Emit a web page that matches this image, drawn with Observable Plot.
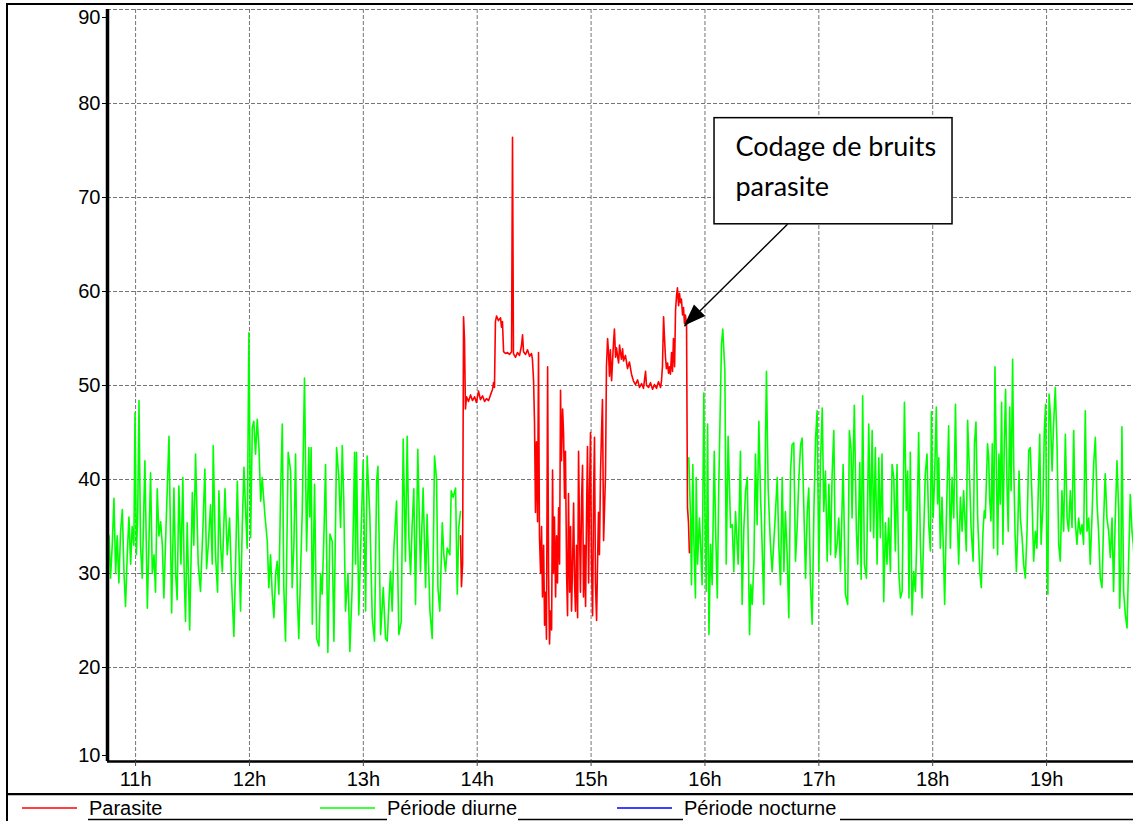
<!DOCTYPE html>
<html><head><meta charset="utf-8">
<script src="https://cdn.jsdelivr.net/npm/d3@7"></script>
<script src="https://cdn.jsdelivr.net/npm/@observablehq/plot@0.6"></script>
<style>
body{margin:0;background:#fff;}
#wrap{position:relative;width:1133px;height:821px;overflow:hidden;font-family:"Liberation Sans",Arial,sans-serif;}
#chart{position:absolute;left:0;top:0;}
#legend{position:absolute;left:0;top:793px;}
#frame{position:absolute;left:6px;top:3px;width:1160px;height:840px;border:2px solid #000;box-sizing:border-box;pointer-events:none;z-index:5;}
</style></head><body>
<div id="wrap"><div id="chart"></div><svg id="legend" width="1133" height="28"></svg><div id="frame"></div></div>
<script>
// ---- data (time in minutes since midnight, level in dB) ----
const hourTicks = [11,12,13,14,15,16,17,18,19];
const levelTicks = [20,30,40,50,60,70,80];
const timeStart = 645.2, timeEnd = 1185.8;

const diurneAT = [645.1,646.0,646.8,647.7,648.6,649.5,650.3,651.2,652.1,653.0,653.9,654.7,655.6,656.5,657.4,658.2,659.1,659.7,660.4,661.1,661.8,662.6,663.5,664.9,666.2,667.0,667.9,668.8,669.7,670.5,671.4,672.3,673.2,674.1,674.9,676.2,677.6,679.0,680.2,681.1,681.9,682.8,683.9,684.9,685.6,686.3,687.2,688.5,689.9,690.7,691.6,693.0,694.2,695.5,696.5,697.4,698.3,699.5,700.4,700.9,702.1,703.2,703.9,704.8,705.7,707.1,708.3,709.5,710.6,711.8,712.7,713.6,714.4,715.3,716.2,717.1,717.9,718.8,719.7,720.6,721.5,722.3,723.2,724.1,725.0,725.9,726.7,728.1,729.4,730.2,731.1,732.0,732.9,733.8,734.6,735.5,736.4,737.3,738.1,739.0,740.4,741.7,742.5,743.4,744.3,745.2,746.0,746.9,747.8,749.0,750.1,751.3,751.8,752.5,753.1,754.3,755.4,756.6,757.5,758.3,759.2,760.1,761.3,762.4,763.6,764.5,765.9,767.1,768.0,768.9,769.7,770.6,771.9,772.9,774.1,775.4,775.9,776.4,777.6,778.5,779.9,781.2,782.0,783.4,784.7,785.9,787.0,787.7,789.1,790.5,791.7,792.6,793.5,794.3,795.2,796.1,797.5,798.7,800.0,801.0,802.2,803.1,804.0,804.9,805.7,806.6,807.5,808.7,810.1,811.5,812.8,813.6,815.1,816.3,817.5,818.6,819.3,820.3,821.6,822.4,823.3,824.2,825.6,826.3,827.3,828.6,829.5,830.3,831.2];
const diurneAV = [31,34,29.5,33,38,30,34,29,34.5,36.8,30,26.5,32,36,31,35,33,47.1,32,36,48.4,33,29.5,42,26.3,33,40.7,30,32,28,39,34,35.5,33,27.4,36,44.6,25.8,39.1,30,27.2,39.3,31,40.2,30,24.9,35.4,24,38.6,33,42.7,31,28.1,35,41.1,30.5,33,37.3,31,43.6,32,28,38.8,33,30.2,39,32,35.9,29,23.3,31,39.8,33,26,35,41.3,37,32.7,55.6,33.8,45.5,46.2,42.7,46.4,43.4,37.7,40.2,36.3,33.4,28.5,32,27.8,25.3,30,31.3,27.8,38.6,45.9,28.5,22.8,42.9,40.9,28.5,33,42.7,27.8,23.1,30,36.5,50.8,32.4,43.4,36,43.4,24.6,39.5,23.1,22.3,30,27.8,33.8,41.6,21.6,34.2,33.4,22.8,43.4,40.2,34.9,43.6,37.7,26,30,21.7,28.5,42.9,31,42.9,25.6,32,42,26,42.5,36.3,25.3,22.8,39.8,41.4,23.5,28.5,23.1,22.8,27,30.2,26,32.7,37.7,23.5,24.9,44.3,31.3,44.6,33.8,29.9,35,39,26.7,43.2,30.2,39.1,28.5,36.3,26,23.1,42.5,40,28.5,26,35.4,32,30.2,32.7,32,38.8,38.1,39.1,27.8,34.9,36.6];

const diurneBT = [951.5,952.4,952.9,953.6,954.2,955.0,955.4,956.1,957.1,957.7,958.5,959.4,960.0,960.7,961.4,962.1,963.0,963.8,964.9,965.6,966.5,967.3,968.7,969.4,970.5,971.2,972.2,973.5,974.4,975.2,976.1,977.5,978.7,979.6,980.5,981.4,982.3,983.5,984.2,984.9,985.8,986.6,987.5,988.4,989.3,989.8,991.0,991.9,992.4,993.3,994.5,995.4,996.8,998.1,998.9,999.8,1000.7,1001.6,1002.4,1003.3,1004.2,1005.1,1005.9,1006.8,1007.7,1008.6,1009.5,1010.4,1011.2,1012.1,1013.0,1013.9,1014.7,1015.6,1016.5,1017.4,1018.3,1019.1,1020.0,1020.9,1021.8,1022.6,1023.5,1024.4,1025.3,1026.2,1027.0,1027.9,1028.7,1029.6,1030.5,1031.4,1032.8,1034.0,1035.2,1036.1,1037.0,1037.5,1038.7,1039.8,1040.5,1041.6,1042.3,1043.1,1044.0,1045.1,1046.3,1047.2,1048.1,1048.9,1049.8,1050.7,1051.6,1052.4,1053.3,1054.2,1055.1,1055.9,1056.8,1057.7,1058.6,1059.5,1060.3,1061.2,1062.1,1063.0,1063.9,1065.1,1066.1,1066.8,1067.5,1068.2,1069.1,1070.0,1070.9,1071.8,1072.6,1073.5,1074.4,1075.3,1076.1,1077.0,1077.9,1078.8,1079.3,1080.2,1080.9,1081.9,1082.6,1083.2,1084.0,1084.9,1085.8,1086.3,1087.2,1088.4,1089.3,1090.2,1091.1,1092.0,1092.8,1093.7,1094.6,1095.5,1096.3,1097.7,1098.4,1099.5,1100.2,1101.3,1102.0,1102.8,1103.7,1104.8,1105.6,1106.5,1107.2,1107.7,1108.9,1109.5,1110.0,1110.7,1111.4,1112.1,1112.8,1113.5,1114.2,1114.9,1115.6,1116.3,1117.0,1117.7,1118.4,1119.1,1119.8,1120.6,1121.3,1122.1,1122.7,1123.4,1124.1,1124.8,1125.5,1126.2,1127.1,1127.9,1128.8,1129.7,1130.6,1131.4,1132.3,1133.2,1134.1,1134.9,1135.8,1136.4,1137.1,1138.1,1138.8,1139.5,1140.2,1140.7,1141.3,1142.0,1142.9,1143.7,1144.6,1145.5,1146.4,1147.2,1148.1,1149.0,1149.9,1150.8,1151.6,1152.5,1153.4,1154.3,1155.1,1156.0,1156.9,1157.8,1158.7,1159.5,1160.4,1161.3,1162.2,1163.0,1163.9,1164.8,1165.7,1166.6,1167.4,1168.3,1169.2,1170.1,1170.9,1171.8,1172.7,1173.6,1174.5,1175.3,1176.2,1177.1,1178.0,1178.5,1179.2,1179.7,1180.6,1181.5,1182.4,1183.2,1184.1,1185.0,1185.7,1186.5];
const diurneBV = [42.3,35.9,28.8,41.6,33.1,27.4,40.2,31,35.9,33.1,28.8,49.2,36.6,28.1,45.9,23.5,33.1,28.8,43,34.9,27.4,39.5,54.4,56,51.5,31,44.6,34.9,35.2,30.2,36.6,31,43,26.7,34.9,38.8,40.2,23.5,28.8,26.7,31.3,42.7,35.2,46.2,38.1,35.2,26.7,44.1,51.5,39.1,33.1,30.2,35.2,40.2,33.1,28.8,40.2,30.2,36.6,32,25.3,40.9,43.7,43.9,31.3,34.9,40.2,43.7,44.4,37,29.5,36.6,39.1,28.8,24.6,36.6,44.4,47.3,30.2,42,47.6,36.6,40.9,31.3,39.5,32,40.5,45.2,31.7,33.1,35.9,30.2,41.6,27.8,26.7,45.2,43.1,35.9,47.9,34.5,31,41.8,29.4,48.9,31,29.5,45.9,34.5,45.2,33.8,43.4,31,42.3,33.8,42.7,27,35.4,31,35.9,30.2,41.6,40.2,32.4,41.6,30.2,27.4,28.1,48.2,36.7,40.9,27.4,42.9,25.6,30.2,28.1,35.2,45,33.1,27.4,34.5,40.6,42.7,35.2,32.4,47.2,35.9,39.5,47.7,37.4,42.3,32.7,38.1,31,26.7,35.9,45.7,32.7,40.2,35.9,48,37,31,38.1,34.5,38.8,32.4,46.3,39.9,34.9,31.3,43.8,46.1,35.9,30.2,28.5,34.5,36.7,35.9,43.8,42.3,38.1,35.6,43.8,32.7,52,42.3,32,42.7,37.4,48.2,33.1,43.4,49.6,39.9,34.5,47.7,38.8,52.8,41.6,34.2,30.2,34.5,40.9,35.9,33.8,31,29.5,34.5,43.1,43.4,38.1,31.3,34.5,32.7,40.2,44.8,33.1,37.4,45.2,48,30.2,27.8,49.1,47,40.9,45.9,49.8,43.8,33.1,31.3,38.8,34.5,44.8,35.9,34.5,38.8,34.9,45.2,35.6,33.1,35.9,34.2,35.2,33.1,47.3,34.5,35.9,31,35.9,41.6,44.5,37.4,34.5,29.5,28.5,35.9,40.6,35.9,34.5,31.7,35.9,28.1,35.9,42,36.7,26.3,31,45.6,28.1,25.6,24.2,31,38.4,34.5,33.1,30];

const parasiteT = [831.2,831.7,832.3,832.8,833.3,833.8,834.4,835.4,836.5,837.5,838.6,839.6,840.7,841.7,842.8,843.9,844.9,846.0,847.0,848.1,848.6,849.1,849.6,850.2,851.2,852.3,852.8,853.3,853.9,854.9,856.0,857.0,858.1,858.6,859.1,860.2,861.2,862.3,863.3,863.9,864.4,865.5,866.5,867.6,868.6,869.1,869.7,870.2,870.7,871.2,871.8,872.3,872.8,873.4,873.9,874.4,875.0,875.5,876.0,876.5,877.1,877.6,878.1,878.6,879.2,879.7,880.2,880.7,881.3,881.8,882.3,882.9,883.4,883.9,884.4,885.0,885.5,886.0,886.5,887.1,887.6,888.1,888.7,889.2,889.7,890.2,890.8,891.3,891.8,892.3,892.9,893.4,893.9,894.4,895.0,895.5,896.0,896.6,897.1,897.6,898.1,898.7,899.2,899.7,900.2,900.8,901.3,901.8,902.3,902.9,903.4,903.9,904.4,905.0,905.5,906.0,906.6,907.1,907.6,908.1,908.7,909.2,909.7,910.2,910.8,911.3,911.8,912.3,912.9,913.4,913.9,914.5,915.0,915.5,916.0,916.6,917.1,918.1,919.2,920.2,921.3,922.3,923.4,924.5,925.5,926.6,927.6,928.7,929.2,930.3,931.3,932.4,933.4,934.5,935.5,936.6,937.1,937.6,938.2,938.7,939.2,939.7,940.3,940.8,941.3,941.8,942.4,942.9,943.4,944.0,944.5,945.0,945.5,946.1,946.6,947.1,947.6,948.2,948.7,949.2,949.7,950.3,950.8,951.3,951.8];
const parasiteV = [34,28.6,31,57.3,55,47.5,48.8,48.3,49.0,48.4,48.8,48.2,49.4,48.5,48.9,48.3,48.6,48.4,49.0,49.6,50.3,49.8,56.8,57.4,56.9,57.2,56.2,56.8,53.6,53.4,53.5,53.3,53.6,76.4,53.4,53.0,53.5,53.2,54.2,55.4,53.6,53.3,53.8,53.1,53.4,52.8,50.5,46,36.5,44,35.5,53.5,34,30,35,27.5,33,24.5,28,23,52,30,22.5,26,24,41,30,36,27.5,34,29,37,31,49.5,42,47.5,45,38,43,30,25.5,38.5,28,35,26,30.5,37.5,29,26,33,25.3,43,35,28,38,41.5,27.5,33,26.5,36,43.5,29,39,45,31,25.5,38,44.5,29,25,31,36.5,32,41,45,48.5,33.5,37,40.5,52,55,53.5,51,53.8,50.5,52.5,54.5,56,53,54,53.2,52.4,54.3,53.5,52.8,53.9,52.6,53.2,51.8,52.5,51.2,50.5,50.1,50.6,49.8,50.2,49.7,51.5,50.0,49.8,50.3,49.6,50.1,49.7,50.4,49.8,50.5,52,57.3,55,53,51.8,52.4,51.3,52,51.2,53.5,51.5,55,52,58,59.5,60.4,58.5,59.8,58.8,59.2,57.5,58.3,56.6,57.5,56.5,37,35.5,32.2,32.2];

const seriesNames = ["Parasite","Période diurne","Période nocturne"];
const seriesColors = ["#ff0000","#00ff00","#0000ff"];

const noteLines = ["Codage de bruits","parasite"];
const noteBox = {x1:16.084, x2:18.174, y1:67.15, y2:78.44};
const noteArrow = {x1:16.725, y1:67.15, x2:15.82, y2:56.3};

// ---- build tables ----
const toRows = (T,V) => T.map((t,i)=>({h:t/60, v:V[i]}));
const diurneA = toRows(diurneAT, diurneAV);
const diurneB = toRows(diurneBT, diurneBV);
const parasite = toRows(parasiteT, parasiteV);

const gridStyle = {stroke:"#666", strokeOpacity:0.9, strokeWidth:1, strokeDasharray:"4,2"};
const axisFont = "'Liberation Sans', Arial, sans-serif";
const yAxisOpts = {tickSize:5, tickPadding:2, label:null, fill:"#000", fontSize:20};

const plot = Plot.plot({
  width:1133, height:793,
  marginLeft:107, marginRight:0, marginTop:9, marginBottom:32,
  style:{background:"transparent", fontFamily:axisFont, fontSize:"20px", color:"#000"},
  x:{domain:[timeStart/60, timeEnd/60]},
  y:{domain:[10,90]},
  marks:[
    Plot.gridX(hourTicks, gridStyle),
    Plot.gridY([...levelTicks, 90], gridStyle),
    Plot.line(diurneA, {x:"h", y:"v", stroke:seriesColors[1], strokeWidth:1.6, clip:true}),
    Plot.line(diurneB, {x:"h", y:"v", stroke:seriesColors[1], strokeWidth:1.6, clip:true}),
    Plot.line(parasite, {x:"h", y:"v", stroke:seriesColors[0], strokeWidth:1.6, clip:true}),
    Plot.ruleY([10], {stroke:"#000", strokeWidth:2.5}),
    Plot.ruleX([timeStart/60], {stroke:"#000", strokeWidth:3.5}),
    Plot.axisX(hourTicks, {tickFormat:d=>d+"h", tickSize:5, tickPadding:5, label:null, stroke:"#444", fill:"#000", fontSize:20}),
    Plot.axisY(levelTicks, yAxisOpts),
    Plot.axisY([90], {...yAxisOpts, dy:8}),
    Plot.axisY([10], {...yAxisOpts, dy:-6}),
    Plot.link([noteArrow], {x1:"x1", y1:"y1", x2:"x2", y2:"y2", stroke:"#000", strokeWidth:1.4}),
    Plot.rect([noteBox], {x1:"x1", x2:"x2", y1:"y1", y2:"y2", fill:"#fff", stroke:"#000", strokeWidth:1.5}),
    Plot.text([noteLines.join("\n")], {x:noteBox.x1 + 0.184, y:(noteBox.y1+noteBox.y2)/2 + 0.85, text:d=>d, textAnchor:"start", lineAnchor:"middle", fontSize:27, lineHeight:1.48, fontFamily:"Lato, 'Open Sans', sans-serif", fill:"#000"})
  ]
});
document.getElementById("chart").appendChild(plot);

// filled arrow head at the arrow tip
const sx = plot.scale("x"), sy = plot.scale("y");
const ax1 = sx.apply(noteArrow.x1), ay1 = sy.apply(noteArrow.y1);
const ax2 = sx.apply(noteArrow.x2), ay2 = sy.apply(noteArrow.y2);
const len = Math.hypot(ax2-ax1, ay2-ay1), ux=(ax2-ax1)/len, uy=(ay2-ay1)/len;
const L=22, w=8, bx=ax2-ux*L, by=ay2-uy*L;
d3.select(plot).append("polygon")
  .attr("points", [[ax2,ay2],[bx-uy*w,by+ux*w],[bx+uy*w,by-ux*w]].map(p=>p.join(",")).join(" "))
  .attr("fill","#000");

// legend
const lg = d3.select("#legend");
lg.append("line").attr("x1",7).attr("x2",1133).attr("y1",1).attr("y2",1).attr("stroke","#000").attr("stroke-width",2.5);
const swatchX = [22,320,617];
seriesNames.forEach((name,i)=>{
  lg.append("line").attr("x1",swatchX[i]).attr("x2",swatchX[i]+55).attr("y1",15).attr("y2",15)
    .attr("stroke",seriesColors[i]).attr("stroke-width",1.5);
});
const lineSegs = [[88,387],[518,683],[840,1133]];
lineSegs.forEach(s=>lg.append("line").attr("x1",s[0]).attr("x2",s[1]).attr("y1",26.5).attr("y2",26.5).attr("stroke","#000").attr("stroke-width",1.3));
seriesNames.forEach((name,i)=>{
  lg.append("text").attr("x",swatchX[i]+67).attr("y",22).text(name)
    .attr("font-family",axisFont).attr("font-size",20).attr("fill","#000");
});
</script>
</body></html>
